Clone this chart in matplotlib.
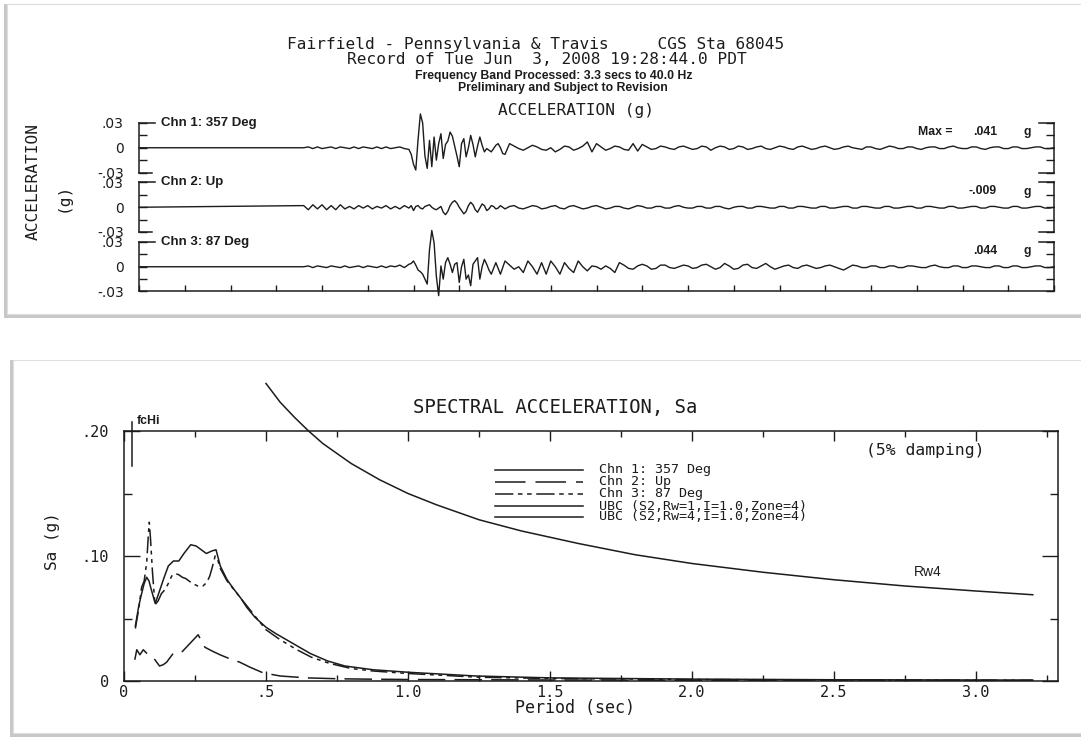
import matplotlib.pyplot as plt
import matplotlib.patches as patches
import numpy as np

W, H = 1081, 738
MONO = 'DejaVu Sans Mono'
SANS = 'Liberation Sans'
INK = '#1c1c1c'

# ---------------- acceleration records (thousandths of g) ----------------
# trace is flat until the record starts, then three sampled segments:
# pre-event noise (0.2 s), strong motion (0.1 s), coda (0.2 s)
record_start = 7.2
strong_start = 11.9
tail_start = 16.2

ch1_noise = [0, 1, -1, 1, -1, 0, 1, -1, 1, 0, -1, 1, -1, 1, 0, -1, 1, -1, 1, -1, 0, 1, -1, -2]
ch1_strong = [-8, -20, -27, 10, 41, 30, -10, -25, 9, -23, 13, -15, 5, 17, -13, 4, 8, 19, 14, 2,
              -10, -23, 5, 11, -11, 0, 15, 4, -11, 2, 13, 3, -5, -1, -3, -5, -1, 3, 5, 0, -7, -8]
ch1_tail = [5, 2, -1, -3, 0, 3, 1, -2, -3, 0,
            -5, -2, 2, 1, -3, -1, 2, 7, -5, 5,
            1, -3, -1, 2, 1, -2, -3, 5, -4, 4,
            1, -2, -1, 2, 1, -1, -2, 1, 2, 0,
            -2, -1, 2, 1, -3, 0, 2, 1, -2, -1,
            2, 1, -2, -1, 1, 2, -1, -2, 0, 2,
            1, -1, -2, 1, 2, 0, -2, -1, 1, 2,
            0, -2, -1, 1, 2, 0, -1, -2, 1, 1,
            -1, -2, 0, 2, 1, -1, -1, 1, 1, -1,
            -2, 0, 1, 1, -1, -1, 1, 2, 0, -1,
            -1, 1, 1, -1, -2, 0, 1, 1, -1, -1,
            1, 1, -1, -1, 0, 1, 1, -1, -1, 0]

ch2_noise = [2, -3, 3, -2, 3, -3, 2, -3, 3, -2, 1, -2, 2, -1, 2, -2, 1, -1, 2, -2, 1, -2, 2, -1]
ch2_strong = [2, -4, 1, 2, -1, -2, 1, 2, 3, 0, -2, -3, -1, 1, -6, -9, -5, 2, 6, 8,
              5, 0, -4, -8, -5, 2, 6, 3, -3, -6, -1, 4, 2, -4, -2, 2, 1, -2, -1, 2, 0, -2]
ch2_tail = [1, 2, -1, -2, 0, 2, 1, -2, -1, 1,
            2, -1, -2, 1, 2, 0, -2, -1, 1, 2,
            0, -2, -1, 1, 1, -1, -2, 0, 2, 1,
            -1, -1, 1, 1, -1, -1, 1, 2, 0, -1,
            -1, 1, 1, -1, -1, 1, 1, -1, -2, 0,
            1, 1, -1, -1, 1, 1, 0, -1, -1, 1,
            1, -1, -1, 1, 1, 0, -1, -1, 1, 1,
            -1, -1, 0, 1, 1, -1, -1, 1, 1, 0,
            -1, -1, 1, 1, -1, -1, 0, 1, 1, -1,
            -1, 1, 1, 0, -1, -1, 1, 1, -1, -1,
            0, 1, 1, -1, -1, 1, 1, 0, -1, -1,
            1, 1, -1, -1, 0, 1, 1, -1, -1, 0]

ch3_noise = [0, 1, -1, 1, 0, -1, 1, 0, -1, 1, -1, 0, 1, -1, 1, 0, -1, 1, -1, 1, 0, 2, -1, 3]
ch3_strong = [4, 7, 2, -4, -6, -9, -15, -21, 21, 44, 29, -12, -35, 1, -15, 5, 11, 3, -7, 3,
              5, -19, 0, 9, -15, -10, -23, 3, 7, 11, -15, 0, 9, 3, -4, -9, -2, 5, -2, -9, -1, 7]
ch3_tail = [2, -3, 0, -7, 7, 0, -9, 5, -9, 7,
            0, -9, 5, -2, -7, 7, 0, -5, 1, 0,
            -3, 1, -2, -7, 5, 2, -2, -3, 1, 3,
            1, -3, -2, 2, 2, -1, -2, 0, 2, 1,
            -2, -1, 2, 3, 0, -3, -1, 4, 1, -3,
            -2, 2, 3, -1, -2, 1, 4, 0, -3, -1,
            1, 2, -1, -2, 1, 2, 0, -2, -1, 1,
            2, 0, -2, -4, -1, 2, 1, -1, -1, 1,
            1, -1, -1, 1, 1, -1, -1, 1, 1, 0,
            -1, -1, 1, 2, 0, -1, -1, 1, 1, -1,
            -1, 1, 1, 0, -1, -1, 1, 1, -1, -1,
            1, 1, -1, -1, 0, 1, 1, -1, -1, 0]

channel_names = ['Chn 1: 357 Deg', 'Chn 2: Up', 'Chn 3: 87 Deg']

# ---------------- response spectra, Sa (g) vs period (s) ----------------
chn1_T = [0.040, 0.052, 0.060, 0.071, 0.080, 0.088, 0.095, 0.110, 0.125, 0.140, 0.156, 0.174,
          0.193, 0.211, 0.235, 0.254, 0.272, 0.290, 0.309, 0.324, 0.339, 0.363, 0.385, 0.412,
          0.432, 0.461, 0.500, 0.534, 0.595, 0.656, 0.717, 0.778, 0.877, 1.0, 1.24, 1.5, 2.0,
          2.5, 3.0, 3.2]
chn1_Sa = [0.044, 0.060, 0.068, 0.078, 0.083, 0.080, 0.074, 0.062, 0.072, 0.082, 0.092, 0.096,
           0.096, 0.102, 0.109, 0.108, 0.105, 0.102, 0.104, 0.105, 0.092, 0.081, 0.074, 0.066,
           0.059, 0.051, 0.043, 0.038, 0.030, 0.022, 0.016, 0.012, 0.009, 0.007, 0.004, 0.0025,
           0.0015, 0.001, 0.0008, 0.0007]

chn2_T = [0.038, 0.045, 0.056, 0.068, 0.085, 0.100, 0.109, 0.125, 0.138, 0.150, 0.173, 0.203,
          0.232, 0.261, 0.285, 0.310, 0.338, 0.370, 0.408, 0.444, 0.490, 0.550, 0.644, 0.750,
          0.850, 1.0, 1.5, 2.0, 2.5, 3.0, 3.2]
chn2_Sa = [0.017, 0.025, 0.021, 0.025, 0.021, 0.019, 0.017, 0.012, 0.013, 0.015, 0.022, 0.023,
           0.030, 0.037, 0.027, 0.024, 0.021, 0.018, 0.015, 0.011, 0.0065, 0.004, 0.0025, 0.0018,
           0.0015, 0.0012, 0.0008, 0.0006, 0.0005, 0.0004, 0.0004]

chn3_T = [0.040, 0.052, 0.062, 0.071, 0.080, 0.086, 0.089, 0.093, 0.100, 0.109, 0.120, 0.132,
          0.144, 0.156, 0.168, 0.180, 0.193, 0.205, 0.217, 0.241, 0.260, 0.278, 0.292, 0.302,
          0.312, 0.321, 0.330, 0.339, 0.363, 0.412, 0.461, 0.500, 0.550, 0.609, 0.660, 0.725,
          0.800, 0.877, 1.0, 1.25, 1.5, 2.0, 2.5, 3.0, 3.2]
chn3_Sa = [0.042, 0.058, 0.075, 0.080, 0.095, 0.118, 0.127, 0.115, 0.088, 0.061, 0.064, 0.070,
           0.073, 0.078, 0.084, 0.086, 0.085, 0.083, 0.082, 0.078, 0.076, 0.076, 0.079, 0.084,
           0.092, 0.100, 0.097, 0.090, 0.080, 0.066, 0.052, 0.041, 0.033, 0.025, 0.019, 0.014,
           0.010, 0.008, 0.006, 0.003, 0.002, 0.0012, 0.0008, 0.0006, 0.0005]

ubc_T = [0.5, 0.55, 0.6, 0.65, 0.7, 0.8, 0.9, 1.0, 1.1, 1.25, 1.4, 1.6, 1.8, 2.0, 2.25, 2.5,
         2.75, 3.0, 3.2]
ubc_rw4_Sa = [0.238, 0.223, 0.211, 0.200, 0.190, 0.174, 0.161, 0.150, 0.141, 0.129, 0.120,
              0.110, 0.101, 0.094, 0.087, 0.081, 0.076, 0.072, 0.069]

legend_labels = ['Chn 1: 357 Deg', 'Chn 2: Up', 'Chn 3: 87 Deg',
                 'UBC (S2,Rw=1,I=1.0,Zone=4)', 'UBC (S2,Rw=4,I=1.0,Zone=4)']

# -------------------------------------------------------------------------
fig = plt.figure(figsize=(W / 100, H / 100), dpi=100)
fig.patch.set_facecolor('white')


def fx(x):
    return x / W


def fy(y):
    return 1 - y / H


def txt(x, y, s, **kw):
    kw.setdefault('color', INK)
    return fig.text(fx(x), fy(y), s, **kw)


def card(x0, y0, x1, y1):
    fig.add_artist(patches.Rectangle((fx(x0 - 3), fy(y1 + 4)), (x1 - x0 + 3) / W, (y1 - y0 + 4) / H,
                                     transform=fig.transFigure, fc='#c8c8c8', ec='none', zorder=0))
    fig.add_artist(patches.Rectangle((fx(x0), fy(y1)), (x1 - x0) / W, (y1 - y0) / H,
                                     transform=fig.transFigure, fc='white', ec='#dedede', lw=0.8, zorder=0))


card(7, 4, 1090, 314)
card(13, 360, 1090, 733)


def trace(noise, strong, tail):
    t = np.concatenate([[0.0],
                        record_start + 0.2 * np.arange(len(noise)),
                        strong_start + 0.1 * np.arange(len(strong)),
                        tail_start + 0.2 * np.arange(len(tail))])
    a = np.concatenate([[0], noise, strong, tail]) / 1000.0
    return t, a


def gfmt(v):
    return f'{v:.3f}'.replace('0.', '.', 1)


# ---------------- top panel: three acceleration traces ----------------
txt(536, 45, 'Fairfield - Pennsylvania & Travis     CGS Sta 68045', ha='center', va='center',
    family=MONO, fontsize=11.6)
txt(547, 60, 'Record of Tue Jun  3, 2008 19:28:44.0 PDT', ha='center', va='center',
    family=MONO, fontsize=11.6)
txt(554, 75.5, 'Frequency Band Processed: 3.3 secs to 40.0 Hz', ha='center', va='center',
    family=SANS, fontweight='bold', fontsize=8.8)
txt(563, 88, 'Preliminary and Subject to Revision', ha='center', va='center',
    family=SANS, fontweight='bold', fontsize=8.8)
txt(576, 110.5, 'ACCELERATION (g)', ha='center', va='center', family=MONO, fontsize=11.6)
txt(33, 182, 'ACCELERATION', rotation=90, ha='center', va='center', family=MONO, fontsize=11.6)
txt(63, 197, '(g)', rotation=90, ha='center', va='center', family=MONO, fontsize=11.6)

records = [trace(ch1_noise, ch1_strong, ch1_tail),
           trace(ch2_noise, ch2_strong, ch2_tail),
           trace(ch3_noise, ch3_strong, ch3_tail)]
row_tops = [123, 182.5, 242]
row_h = 49.5
for k, (t, a) in enumerate(records):
    top = row_tops[k]
    ax = fig.add_axes([fx(139), fy(top + row_h), 915 / W, row_h / H])
    ax.patch.set_visible(False)
    ax.set_xlim(0, 40)
    ax.set_ylim(-0.03, 0.03)
    last = k == len(records) - 1
    for side in ['left', 'right']:
        ax.spines[side].set_linewidth(1.1)
        ax.spines[side].set_color(INK)
    ax.spines['top'].set_visible(False)
    ax.spines['bottom'].set_visible(last)
    ax.spines['bottom'].set_linewidth(1.1)
    ax.spines['bottom'].set_color(INK)
    # bracket ends
    ax.plot([0, 0.7], [0.03, 0.03], color=INK, lw=1.1, clip_on=False)
    ax.plot([39.34, 40], [0.03, 0.03], color=INK, lw=1.1, clip_on=False)
    if not last:
        ax.plot([0, 0.57], [-0.03, -0.03], color=INK, lw=1.1, clip_on=False)
        ax.plot([39.34, 40], [-0.03, -0.03], color=INK, lw=1.1, clip_on=False)
    ax.set_yticks([-0.03, -0.015, 0, 0.015, 0.03])
    ax.set_yticklabels(['-.03', '', '0', '', '.03'], fontsize=10, color=INK)
    ax.tick_params(axis='y', direction='in', length=5.8, width=1.0, left=True, right=True,
                   pad=11, colors=INK)
    if last:
        ax.set_xticks(np.arange(0, 41, 2))
        ax.tick_params(axis='x', direction='in', length=4, width=1.0, labelbottom=False, colors=INK)
    else:
        ax.set_xticks([])
    ax.plot(t, a, color=INK, lw=1.0, clip_on=False)

    peak = a[np.argmax(np.abs(a))]
    yv = top + 9
    if k == 0:
        txt(918, yv, 'Max =', ha='left', va='center', family=SANS, fontweight='bold', fontsize=8.8)
    txt(997, yv, gfmt(peak), ha='right', va='center', family=SANS, fontweight='bold', fontsize=8.8)
    txt(1024, yv, 'g', ha='left', va='center', family=SANS, fontweight='bold', fontsize=8.8)
    txt(161, top, channel_names[k], ha='left', va='center', family=SANS, fontweight='bold',
        fontsize=9.5)

# ---------------- bottom panel: spectral acceleration ----------------
x_max = (1058 - 124) / 284
bx = fig.add_axes([fx(124), fy(681), (1058 - 124) / W, 250 / H])
bx.patch.set_visible(False)
bx.set_xlim(0, x_max)
bx.set_ylim(0, 0.2)
for s in bx.spines.values():
    s.set_linewidth(1.1)
    s.set_color(INK)

bx.set_xticks([0, 0.5, 1.0, 1.5, 2.0, 2.5, 3.0])
bx.set_xticklabels(['0', '.5', '1.0', '1.5', '2.0', '2.5', '3.0'], family=MONO, fontsize=11)
bx.set_xticks(np.arange(0.25, 3.3, 0.5), minor=True)
bx.set_yticks([0, 0.1, 0.2])
bx.set_yticklabels(['0', '.10', '.20'], family=MONO, fontsize=11)
bx.set_yticks([0.05, 0.15], minor=True)
bx.tick_params(axis='x', which='major', direction='in', length=7, width=1.0, top=True, pad=3,
               colors=INK)
bx.tick_params(axis='x', which='minor', direction='in', length=4, width=1.0, top=True, colors=INK)
bx.tick_params(axis='y', which='major', direction='in', length=11.5, width=1.0, right=True,
               pad=11, colors=INK)
bx.tick_params(axis='y', which='minor', direction='in', length=6, width=1.0, right=True,
               colors=INK)

bx.plot(chn1_T, chn1_Sa, color=INK, lw=1.1)
bx.plot(chn2_T, chn2_Sa, color=INK, lw=1.1, linestyle=(0, (18, 6)))
bx.plot(chn3_T, chn3_Sa, color=INK, lw=1.1, linestyle=(0, (11, 3, 2.5, 3, 2.5, 3)))
bx.plot(ubc_T, ubc_rw4_Sa, color=INK, lw=1.1, clip_on=False)

# high-frequency corner marker
bx.plot([0.028, 0.028], [0.172, 0.207], color=INK, lw=1.1, clip_on=False)
txt(137, 421, 'fcHi', ha='left', va='center', family=SANS, fontweight='bold', fontsize=8.8)

# legend drawn by hand
styles = ['-', (0, (20, 6.5)), (0, (12, 3, 3, 3, 3, 3)), '-', '-']
leg_y = [470, 482, 493.5, 506, 517]
for ls, yy, lab in zip(styles, leg_y, legend_labels):
    fig.add_artist(plt.Line2D([fx(495), fx(583)], [fy(yy), fy(yy)], transform=fig.transFigure,
                              color=INK, lw=1.1, linestyle=ls))
    txt(599, yy, lab, ha='left', va='center', family=MONO, fontsize=9.6)

txt(555, 408, 'SPECTRAL ACCELERATION, Sa', ha='center', va='center', family=MONO, fontsize=13.6)
txt(925, 450, '(5% damping)', ha='center', va='center', family=MONO, fontsize=11.8)
txt(928, 572, 'Rw4', ha='center', va='center', family=SANS, fontsize=10)
txt(53, 541, 'Sa (g)', rotation=90, ha='center', va='center', family=MONO, fontsize=11.5)
txt(575, 708, 'Period (sec)', ha='center', va='center', family=MONO, fontsize=12)

fig.savefig('out.png', dpi=100)
